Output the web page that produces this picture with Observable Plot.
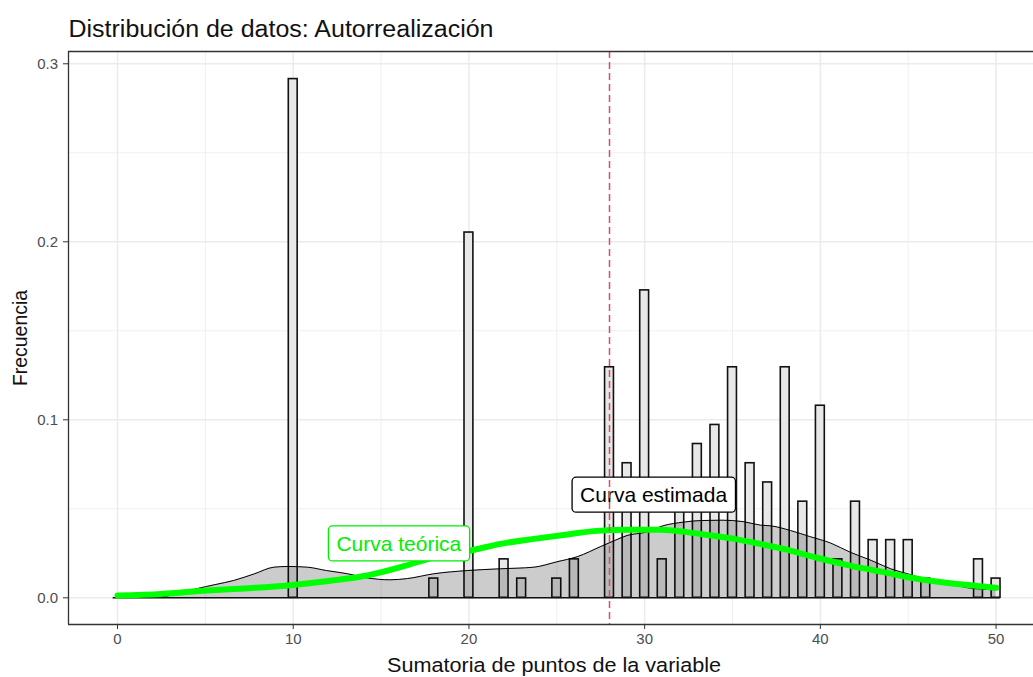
<!DOCTYPE html>
<html><head><meta charset="utf-8">
<script src="https://cdn.jsdelivr.net/npm/d3@7"></script>
<script src="https://cdn.jsdelivr.net/npm/@observablehq/plot@0.6"></script>
<style>
html,body{margin:0;padding:0;background:#fff;overflow:hidden;}
svg{display:block;}
</style></head><body><div id="chart"></div>
<script>
const title = "Distribución de datos: Autorrealización";
const xLabel = "Sumatoria de puntos de la variable";
const yLabel = "Frecuencia";

const xTicks = [0, 10, 20, 30, 40, 50];
const xMinor = [5, 15, 25, 35, 45];
const yTicks = [0, 0.1, 0.2, 0.3];
const yMinor = [0.05, 0.15, 0.25];

// histogram (density scale)
const binX    = [10, 18, 20, 22, 23, 25, 26, 28, 29, 30, 31, 32, 33, 34, 35, 36, 37, 38, 39, 40, 41, 42, 43, 44, 45, 46, 49, 50];
const binFreq = [0.2914, 0.0108, 0.2052, 0.0216, 0.0108, 0.0108, 0.0216, 0.1295, 0.0756, 0.1727, 0.0216, 0.054, 0.0864, 0.0971, 0.1295, 0.0756, 0.0648, 0.1295, 0.054, 0.1079, 0.0216, 0.054, 0.0324, 0.0324, 0.0324, 0.0108, 0.0216, 0.0108];
const binHalf = 0.2525;
const histRange = [-0.25, 50.25];

// estimated density curve
const densX = [0, 2.5, 3.5, 4.5, 5.6, 6.6, 7.8, 8.9, 9.7, 10.8, 11.9, 13.1, 14.2, 15.5, 16.5, 18.0, 19.9, 21.8, 23.7, 25.0, 26.2, 27.5, 28.3, 29.0, 30.1, 31.1, 32.2, 33.2, 34.4, 35.6, 36.6, 37.2, 38.3, 39.4, 40.6, 41.7, 42.9, 44.0, 45.1, 46.3, 47.4, 48.4, 50.0];
const densY = [0.0002, 0.0006, 0.0025, 0.0051, 0.0075, 0.0097, 0.0135, 0.0172, 0.0176, 0.0172, 0.0153, 0.0135, 0.0112, 0.0101, 0.0108, 0.0135, 0.0153, 0.0163, 0.0172, 0.0202, 0.0232, 0.0288, 0.0322, 0.035, 0.0369, 0.0406, 0.0425, 0.0434, 0.0436, 0.0428, 0.0408, 0.0404, 0.0378, 0.0344, 0.0307, 0.0256, 0.021, 0.0163, 0.0131, 0.0097, 0.0079, 0.0056, 0.0045];

// theoretical curve
const theoX = [0, 2.5, 5.1, 7.5, 9.7, 12.0, 14.2, 16.1, 18.0, 20.1, 21.8, 23.7, 25.6, 27.3, 29.0, 30.9, 32.4, 33.8, 35.1, 36.6, 37.9, 39.8, 41.7, 43.6, 45.5, 47.4, 49.3, 50.0];
const theoY = [0.0013, 0.0022, 0.0041, 0.0054, 0.0069, 0.0094, 0.0125, 0.0172, 0.0228, 0.0266, 0.0303, 0.0331, 0.0356, 0.0376, 0.0382, 0.0382, 0.0369, 0.035, 0.0331, 0.0302, 0.0275, 0.0225, 0.0181, 0.0144, 0.0107, 0.0082, 0.0063, 0.0056];

const refLine = [28];

const labelText  = ["Curva estimada", "Curva teórica"];
const labelX     = [30.51, 16.01];
const labelY     = [0.0575, 0.0301];
const labelColor = ["#000000", "#00ee00"];

const xDomain = [-2.79, 52.13];
const yDomain = [-0.015, 0.3069];

const bins = binX.map((x, i) => ({x1: x - binHalf, x2: x + binHalf, y: binFreq[i]}));
const base = [{y: 0, x1: histRange[0], x2: histRange[1]}];
const dens = densX.map((x, i) => ({x, y: densY[i]}));
const theo = theoX.map((x, i) => ({x, y: theoY[i]}));
const labels = labelText.map((t, i) => ({t, x: labelX[i], y: labelY[i], c: labelColor[i]}));

const font = "'Liberation Sans', Arial, sans-serif";

const plot = Plot.plot({
  width: 1033,
  height: 677,
  marginLeft: 68,
  marginRight: 0,
  marginTop: 51,
  marginBottom: 53,
  style: {fontFamily: font, background: "#ffffff"},
  x: {domain: xDomain},
  y: {domain: yDomain},
  marks: [
    Plot.ruleX(xMinor, {stroke: "#ebebeb", strokeWidth: 0.8}),
    Plot.ruleY(yMinor, {stroke: "#ebebeb", strokeWidth: 0.8}),
    Plot.ruleX(xTicks, {stroke: "#ebebeb", strokeWidth: 1.5}),
    Plot.ruleY(yTicks, {stroke: "#ebebeb", strokeWidth: 1.5}),
    Plot.rectY(bins, {x1: "x1", x2: "x2", y: "y", fill: "#e8e8e8", stroke: "#111", strokeWidth: 1.6}),
    Plot.ruleY(base, {y: "y", x1: "x1", x2: "x2", stroke: "#111", strokeWidth: 1.6}),
    Plot.areaY(dens, {x: "x", y: "y", fill: "#000", fillOpacity: 0.2, curve: "monotone-x"}),
    Plot.lineY(dens, {x: "x", y: "y", stroke: "#000", strokeWidth: 1, curve: "monotone-x"}),
    Plot.lineY(theo, {x: "x", y: "y", stroke: "#00ff00", strokeWidth: 6, curve: "monotone-x"}),
    Plot.text([labels[0]], {x: "x", y: "y", text: "t", fill: labels[0].c, fontSize: 21}),
    Plot.text([labels[1]], {x: "x", y: "y", text: "t", fill: labels[1].c, fontSize: 21}),
    Plot.ruleX(refLine, {stroke: "#dc4a64", strokeWidth: 1.5, strokeDasharray: "7,4"}),
    Plot.ruleY(yDomain, {stroke: "#333", strokeWidth: 1.3}),
    Plot.ruleX([xDomain[0]], {stroke: "#333", strokeWidth: 1.3}),
    Plot.axisX(xTicks, {tickSize: 5, tickPadding: 4, fontSize: 15, stroke: "#333", fill: "#4d4d4d", label: null, tickFormat: d => String(d)}),
    Plot.axisY(yTicks, {tickSize: 5, tickPadding: 5.5, fontSize: 15, stroke: "#333", fill: "#4d4d4d", label: null, tickFormat: d3.format(".1f")}),
    Plot.text([title], {text: d => d, frameAnchor: "top-left", textAnchor: "start", lineAnchor: "bottom", dy: -15, fontSize: 23, fill: "#111"}),
    Plot.text([xLabel], {text: d => d, frameAnchor: "bottom", textAnchor: "middle", lineAnchor: "bottom", dy: 47, dx: 3, fontSize: 20.5, fill: "#111"}),
    Plot.text([yLabel], {text: d => d, frameAnchor: "left", textAnchor: "middle", lineAnchor: "middle", rotate: -90, dx: -48, fontSize: 20, fill: "#111"})
  ]
});

document.getElementById("chart").append(plot);

// horizontal stretch of titles to the reference's widths
const stretch = {};
stretch[title] = 425;
stretch[xLabel] = 334;
stretch[yLabel] = 96;

plot.querySelectorAll("text").forEach(t => {
  const s = t.textContent;
  if (stretch[s]) {
    t.setAttribute("textLength", stretch[s]);
    t.setAttribute("lengthAdjust", "spacingAndGlyphs");
  }
  const i = labelText.indexOf(s);
  if (i < 0) return;
  const bb = t.getBBox();
  const r = document.createElementNS("http://www.w3.org/2000/svg", "rect");
  r.setAttribute("x", bb.x - 8);
  r.setAttribute("y", bb.y - 6);
  r.setAttribute("width", bb.width + 16);
  r.setAttribute("height", bb.height + 12);
  r.setAttribute("rx", 4);
  r.setAttribute("fill", "#ffffff");
  r.setAttribute("stroke", labelColor[i]);
  r.setAttribute("stroke-width", 1.3);
  const tr = t.getAttribute("transform");
  if (tr) r.setAttribute("transform", tr);
  t.parentNode.insertBefore(r, t);
});
</script>
</body></html>
